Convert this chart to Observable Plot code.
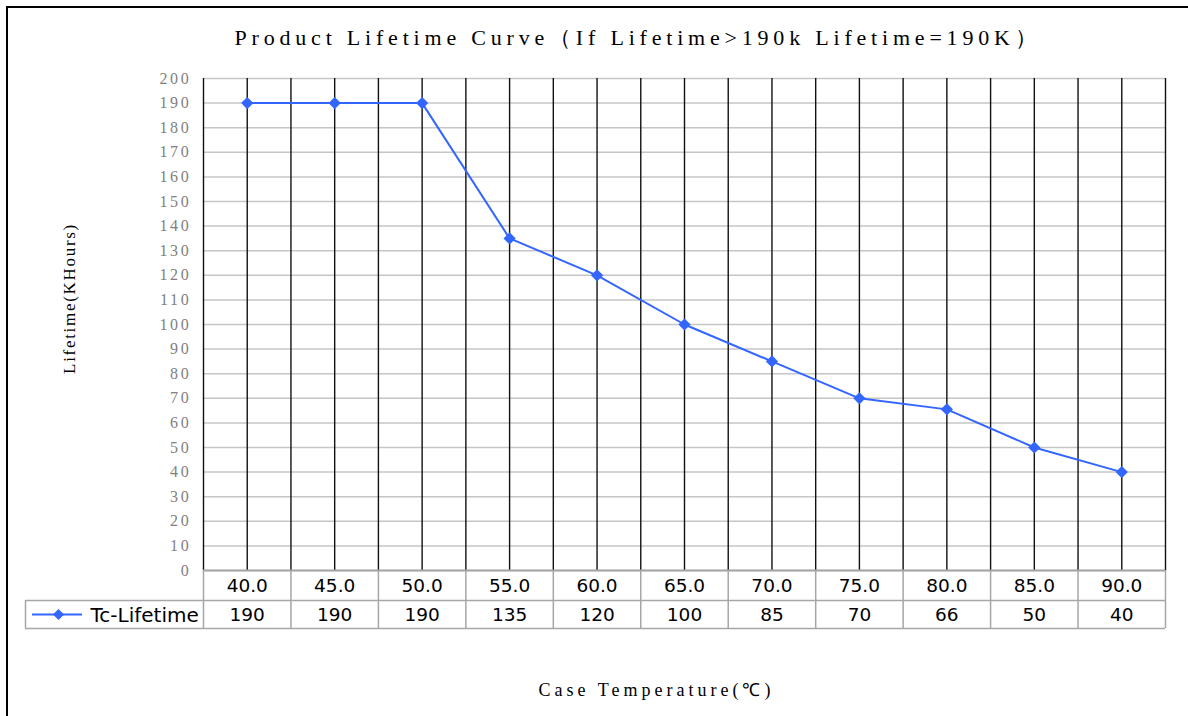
<!DOCTYPE html>
<html><head><meta charset="utf-8">
<script src="https://cdn.jsdelivr.net/npm/d3@7"></script>
<script src="https://cdn.jsdelivr.net/npm/@observablehq/plot@0.6"></script>
<style>
html,body{margin:0;padding:0;background:#fff;overflow:hidden;}
#wrap{position:relative;width:1188px;height:716px;overflow:hidden;}
#border{position:absolute;left:6px;top:6px;width:1300px;height:800px;border-left:2px solid #000;border-top:2px solid #000;}
#title{position:absolute;top:24px;left:138px;width:1000px;text-align:center;font-family:"Liberation Serif";font-size:22px;letter-spacing:4.8px;color:#000;white-space:nowrap;line-height:28px;}
#chart{position:absolute;left:0;top:0;}
g[aria-label="y-axis tick label"] text{letter-spacing:2.7px;}
</style></head>
<body>
<div id="wrap">
  <div id="border"></div>
  <div id="title">Product Lifetime Curve（If Lifetime&gt;190k Lifetime=190K）</div>
  <div id="chart"></div>
</div>
<script>
const temperatures = [40, 45, 50, 55, 60, 65, 70, 75, 80, 85, 90];
const lifetimes = [190, 190, 190, 135, 120, 100, 85, 70, 65.5, 50, 40];
const lifetimeLabels = ["190", "190", "190", "135", "120", "100", "85", "70", "66", "50", "40"];
const yTicks = [0, 10, 20, 30, 40, 50, 60, 70, 80, 90, 100, 110, 120, 130, 140, 150, 160, 170, 180, 190, 200];
const cellEdges = [37.5, 42.5, 47.5, 52.5, 57.5, 62.5, 67.5, 72.5, 77.5, 82.5, 87.5, 92.5];
const seriesName = "Tc-Lifetime";
const yLabel = "Lifetime(KHours)";
const xLabel = "Case Temperature(℃)";

const table = temperatures.map((t, i) => ({t, v: lifetimes[i], label: lifetimeLabels[i]}));
const blue = "#3366ff";
const border = "#a6a6a6";

const chart = Plot.plot({
  width: 1188, height: 716,
  marginTop: 78, marginBottom: 146, marginLeft: 203, marginRight: 23,
  style: {fontFamily: "DejaVu Sans", background: "transparent", overflow: "visible", color: "#000"},
  x: {type: "linear", domain: [37.5, 92.5], axis: null},
  y: {domain: [0, 200], axis: null},
  marks: [
    Plot.ruleY(yTicks, {stroke: "#c6c6c6", strokeWidth: 1.5}),
    Plot.ruleX([...temperatures, ...cellEdges], {stroke: "#111", strokeWidth: 1.4}),
    // data table
    Plot.ruleY([0], {stroke: border, strokeWidth: 2}),
    Plot.ruleY([0], {stroke: border, strokeWidth: 1.5, dy: 30, insetLeft: -178}),
    Plot.ruleY([0], {stroke: border, strokeWidth: 1.5, dy: 58, insetLeft: -178}),
    Plot.ruleX(cellEdges, {y1: 0, y2: 0, insetBottom: -58, stroke: border, strokeWidth: 1.5}),
    Plot.ruleX([cellEdges[0]], {y1: 0, y2: 0, insetTop: 30, insetBottom: -58, dx: -178, stroke: border, strokeWidth: 1.5}),
    Plot.text(table, {x: "t", text: d => d.t.toFixed(1), frameAnchor: "bottom", lineAnchor: "middle", dy: 16, fontSize: 18.5, fill: "#000"}),
    Plot.text(table, {x: "t", text: "label", frameAnchor: "bottom", lineAnchor: "middle", dy: 45, fontSize: 18.5, fill: "#000"}),
    Plot.text([seriesName], {frameAnchor: "bottom-left", lineAnchor: "middle", dx: -113, dy: 45, textAnchor: "start", fontSize: 20, fill: "#000"}),
    Plot.ruleY([0], {x1: 37.5, x2: 37.5, dy: 44, insetLeft: -171, insetRight: 121, stroke: blue, strokeWidth: 2}),
    Plot.dot([0], {frameAnchor: "bottom-left", dx: -145, dy: 44, symbol: "diamond2", r: 5, fill: blue, stroke: "none"}),
    // series
    Plot.line(table, {x: "t", y: "v", stroke: blue, strokeWidth: 2}),
    Plot.dot(table, {x: "t", y: "v", symbol: "diamond2", r: 5.5, fill: blue, stroke: "none"}),
    // axes
    Plot.axisY({ticks: yTicks, tickSize: 0, tickPadding: 12, fontFamily: "Liberation Serif", fontSize: 16, color: "#7f7f7f", label: null}),
    Plot.text([yLabel], {frameAnchor: "left", textAnchor: "middle", lineAnchor: "middle", dx: -134, dy: -26, rotate: -90, fontFamily: "Liberation Serif", fontSize: 17, fill: "#000"}),
    Plot.text([xLabel], {frameAnchor: "bottom", textAnchor: "middle", lineAnchor: "middle", dx: -28, dy: 120, fontFamily: "Liberation Serif", fontSize: 18, fill: "#000"})
  ]
});
d3.select(chart).selectAll("text")
  .filter(function() { return this.textContent === yLabel; })
  .style("letter-spacing", "1.7px");
d3.select(chart).selectAll("text")
  .filter(function() { return this.textContent === xLabel; })
  .style("letter-spacing", "4px");
document.getElementById("chart").appendChild(chart);
</script>
</body></html>
